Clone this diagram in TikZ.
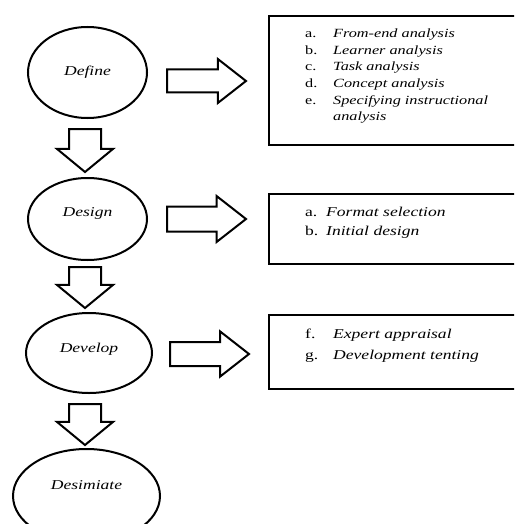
\documentclass[tikz,border=0pt]{standalone}
\usepackage{fontspec}
\setmainfont{Liberation Serif}[FakeStretch=1.3]
\usetikzlibrary{shapes.geometric,shapes.arrows}

\begin{document}
\begin{tikzpicture}[x=1pt,y=-1pt,
stage/.style={draw,ellipse,line width=2pt,inner sep=0pt,font=\fontsize{13.5}{16}\selectfont\itshape},
listbox/.style={draw,line width=2pt,anchor=north west,minimum width=270pt,inner sep=0pt},
listtext/.style={anchor=base west,inner sep=0pt,align=left},
rarrow/.style={draw,single arrow,line width=2pt,anchor=tail,inner xsep=5pt,inner ysep=10.5pt,single arrow head extend=10.5pt,single arrow head indent=0pt,single arrow tip angle=76,minimum height=79pt},
darrow/.style={rarrow,shape border rotate=270,inner xsep=15pt,inner ysep=10pt,single arrow head extend=12pt,single arrow tip angle=101,minimum height=43pt}
]
\clip (0,0) rectangle (514,524);
% stages
\node[stage,minimum width=119pt,minimum height=91pt] (define) at (87.5,72.5) {Define};
\node[stage,minimum width=119pt,minimum height=82pt] (design) at (87.5,219) {\raisebox{13pt}{Design}};
\node[stage,minimum width=126pt,minimum height=80pt] (develop) at (89,353) {\raisebox{10pt}{Develop}};
\node[stage,minimum width=147pt,minimum height=94pt] (desimiate) at (86.5,496) {\raisebox{21pt}{Desimiate}};
% down arrows
\node[darrow] (dn1) at (85,128) {};
\node[darrow,minimum height=41pt] (dn2) at (85,266) {};
\node[darrow,minimum height=41pt] (dn3) at (85,403) {};
% right arrows
\node[rarrow] (rt1) at (166,81) {};
\node[rarrow,inner ysep=11.5pt] (rt2) at (166,219) {};
\node[rarrow,inner ysep=11pt] (rt3) at (169,354) {};
% boxes
\node[listbox,minimum height=129pt] (box1) at (268,15) {};
\node[listbox,minimum height=70pt] (box2) at (268,193) {};
\node[listbox,minimum height=74pt] (box3) at (268,314) {};
\node[listtext,font=\fontsize{12.5}{16.7}\selectfont] (list1) at (305,37.5) {%
\begin{tabular}[t]{@{}p{28pt}@{}l@{}}
a. & \textit{From-end analysis}\\
b. & \textit{Learner analysis}\\
c. & \textit{Task analysis}\\
d. & \textit{Concept analysis}\\
e. & \textit{Specifying instructional}\\
   & \textit{analysis}
\end{tabular}};
\node[listtext,font=\fontsize{13.5}{19.5}\selectfont] (list2) at (305,216) {%
\begin{tabular}[t]{@{}p{21pt}@{}l@{}}
a. & \textit{Format selection}\\
b. & \textit{Initial design}
\end{tabular}};
\node[listtext,font=\fontsize{13.5}{21}\selectfont] (list3) at (305,338) {%
\begin{tabular}[t]{@{}p{28pt}@{}l@{}}
f. & \textit{Expert appraisal}\\
g. & \textit{Development tenting}
\end{tabular}};
\end{tikzpicture}
\end{document}
